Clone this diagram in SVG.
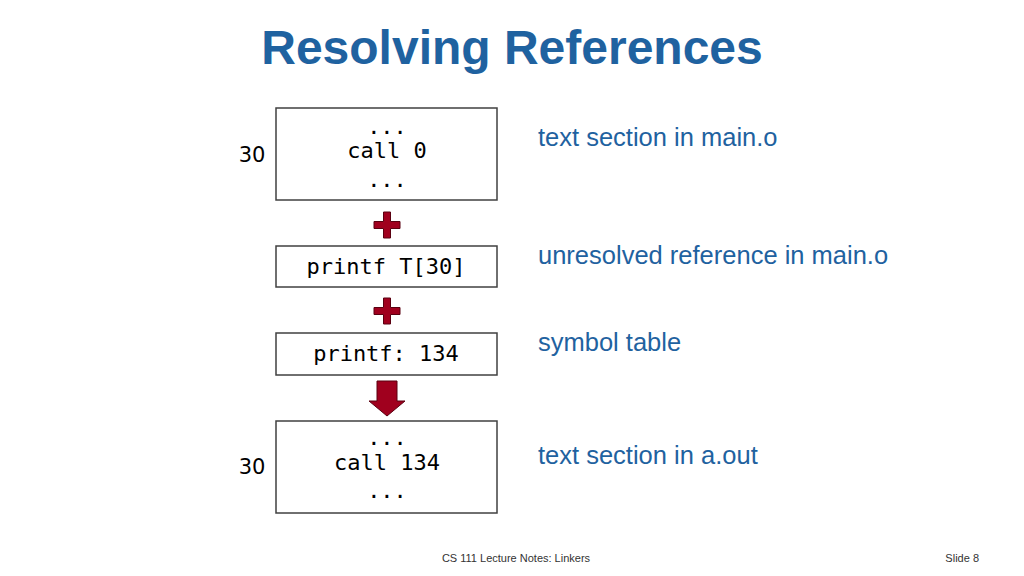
<svg xmlns="http://www.w3.org/2000/svg" width="1024" height="576" viewBox="0 0 1024 576">
<style>
.box{fill:#fff;stroke:#404040;stroke-width:1.5}
.m{font-family:"DejaVu Sans Mono",monospace;font-size:22px;fill:#000;text-anchor:middle}
.n{font-family:"DejaVu Sans",sans-serif;font-size:21px;fill:#000;text-anchor:middle}
.b{font-family:"Liberation Sans",Arial,sans-serif;font-size:25.5px;fill:#1F62A0}
.r{fill:#A0001E;stroke:#5a0010;stroke-width:1}
</style>
<rect width="1024" height="576" fill="#fff"/>
<text x="512" y="64" text-anchor="middle" font-family="Liberation Sans,Arial,sans-serif" font-weight="bold" font-size="48" fill="#1F62A0">Resolving References</text>
<g id="box1"><rect class="box" x="276" y="108" width="221" height="92"/>
<text class="m" x="387" y="134">...</text><text class="m" x="387" y="158">call 0</text><text class="m" x="387" y="187">...</text></g>
<g id="box2"><rect class="box" x="276" y="246" width="221" height="41"/><text class="m" x="386" y="274">printf T[30]</text></g>
<g id="box3"><rect class="box" x="276" y="333" width="221" height="42"/><text class="m" x="386" y="361">printf: 134</text></g>
<g id="box4"><rect class="box" x="276" y="421" width="221" height="92"/>
<text class="m" x="387" y="445">...</text><text class="m" x="387" y="470">call 134</text><text class="m" x="387" y="498">...</text></g>
<g id="labels">
<text class="n" x="252" y="162">30</text><text class="n" x="252" y="474">30</text>
<text class="b" x="538" y="146">text section in main.o</text>
<text class="b" x="538" y="264">unresolved reference in main.o</text>
<text class="b" x="538" y="351">symbol table</text>
<text class="b" x="538" y="464">text section in a.out</text>
</g>
<g id="connectors">
<path class="r" d="M383.5,212h7v9.5h9.5v7h-9.5v9.5h-7v-9.5h-9.5v-7h9.5z"/>
<path class="r" d="M383.5,298h7v9.5h9.5v7h-9.5v9.5h-7v-9.5h-9.5v-7h9.5z"/>
<path class="r" d="M377,381h20v20h8l-18,15l-18,-15h8z"/>
</g>
<text x="516" y="562" text-anchor="middle" font-family="Liberation Sans,Arial,sans-serif" font-size="11" fill="#333">CS 111 Lecture Notes: Linkers</text>
<text x="979" y="562" text-anchor="end" font-family="Liberation Sans,Arial,sans-serif" font-size="11" fill="#333">Slide 8</text>
</svg>
